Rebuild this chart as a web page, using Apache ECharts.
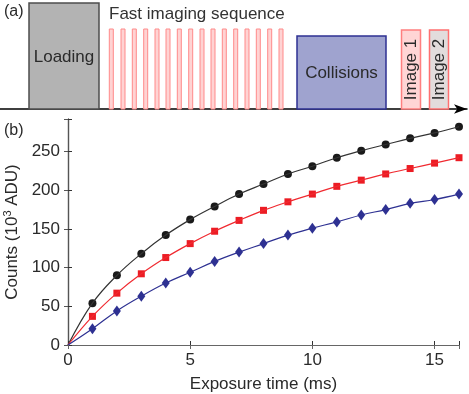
<!DOCTYPE html>
<html>
<head>
<meta charset="utf-8">
<script src="https://cdn.jsdelivr.net/npm/echarts@6/dist/echarts.min.js"></script>
<style>
html, body { margin: 0; padding: 0; background: #fff; }
#chart { width: 469px; height: 394px; }
</style>
</head>
<body>
<div id="chart"></div>
<script>
// panel (b) data, counts in 10^3 ADU
const exposure = [1, 2, 3, 4, 5, 6, 7, 8, 9, 10, 11, 12, 13, 14, 15, 16];
const countsBlack = [54, 90, 118, 142, 162, 179, 195, 208, 221, 231, 242, 251, 259, 267, 274, 282];
const countsRed = [37, 67, 92, 113, 131, 147, 161, 174, 185, 195, 205, 213, 221, 228, 235, 242];
const countsBlue = [21, 44, 63, 80, 94, 108, 120, 131, 142, 151, 159, 168, 175, 183, 188, 195];
const xTicks = [0, 5, 10, 15];
const yTicks = [0, 50, 100, 150, 200, 250];

// panel (a) sequence, positions along the time arrow (schematic units)
const blockNames = ['Loading', 'Collisions', 'Image 1', 'Image 2'];
const blockStart = [29, 297, 401.5, 429.5];
const blockEnd = [99, 386, 420.5, 448.5];
const blockHeight = [106, 73, 79, 79];
const pulseStart = [109.3, 121, 132.3, 143.7, 155, 166, 177.3, 188.7, 200, 211, 222.3, 233.7, 245, 256.3, 267.7, 279];
const pulseEnd = [113.3, 125, 136.3, 147.7, 159, 170, 181.3, 192.7, 204, 215, 226.3, 237.7, 249, 260.3, 271.7, 283];
const pulseHeight = 80;

const FONT = '"Liberation Sans", Arial, Helvetica, sans-serif';
const TXT = '#2a2a2a';

const blockStyles = [
  { fill: '#b3b3b3', stroke: '#4d4d4d', vertical: false },
  { fill: '#9fa3cf', stroke: '#2e3192', vertical: false },
  { fill: '#ffd5d5', stroke: '#ff7f7f', vertical: true },
  { fill: '#e2dcdc', stroke: '#ff7070', vertical: true }
];

let myChart = echarts.init(document.getElementById('chart'));

function pairs(ys) {
  return exposure.map((x, i) => [x, ys[i]]);
}
function fitLine(ys) {
  return [[0, 0]].concat(pairs(ys));
}
function tickFmt(list) {
  return function (v) { return list.indexOf(v) >= 0 ? String(v) : ''; };
}

function renderBlock(params, api) {
  let p0 = api.coord([api.value(0), 0]);
  let p1 = api.coord([api.value(1), api.value(2)]);
  let st = blockStyles[params.dataIndex];
  let cx = (p0[0] + p1[0]) / 2;
  let cy = (p0[1] + p1[1]) / 2;
  return {
    type: 'group',
    children: [
      {
        type: 'rect',
        shape: { x: p0[0], y: p1[1], width: p1[0] - p0[0], height: p0[1] - p1[1] },
        style: { fill: st.fill, stroke: st.stroke, lineWidth: 1.5 }
      },
      {
        type: 'text',
        x: cx, y: cy + (st.vertical ? 0 : 1),
        rotation: st.vertical ? Math.PI / 2 : 0,
        style: {
          text: blockNames[params.dataIndex],
          fill: TXT, font: '17px ' + FONT,
          align: 'center', verticalAlign: 'middle'
        }
      }
    ]
  };
}

function renderPulse(params, api) {
  let p0 = api.coord([api.value(0), 0]);
  let p1 = api.coord([api.value(1), api.value(2)]);
  return {
    type: 'rect',
    shape: { x: p0[0], y: p1[1], width: p1[0] - p0[0], height: p0[1] - p1[1] },
    style: { fill: '#ffd3d3', stroke: '#ff8a8a', lineWidth: 1 }
  };
}

let option = {
  animation: false,
  textStyle: { fontFamily: FONT },
  grid: [
    { left: 0, top: 0, width: 467, height: 109, outerBoundsMode: 'none', containLabel: false },
    { left: 68, top: 119, right: 10, bottom: 49, outerBoundsMode: 'none', containLabel: false }
  ],
  xAxis: [
    {
      gridIndex: 0, type: 'value', min: 0, max: 467,
      axisLine: { show: true, symbol: ['none', 'arrow'], symbolSize: [7, 13], lineStyle: { color: '#000', width: 1.5 } },
      axisTick: { show: false }, axisLabel: { show: false }, splitLine: { show: false }
    },
    {
      gridIndex: 1, type: 'value', min: 0, max: 16, interval: 5,
      name: 'Exposure time (ms)', nameLocation: 'middle', nameGap: 31,
      nameTextStyle: { fontSize: 17, color: TXT, fontFamily: FONT },
      axisLine: { lineStyle: { color: '#333', width: 1.2 } },
      axisTick: { inside: true, length: 4, lineStyle: { color: '#333' } },
      axisLabel: { fontSize: 17, color: TXT, margin: 7, formatter: tickFmt(xTicks) },
      splitLine: { show: false }
    },
    {
      gridIndex: 1, type: 'value', min: 0, max: 16, interval: 5, position: 'top',
      axisLine: { lineStyle: { color: '#666', width: 1.2 } },
      axisTick: { inside: true, length: 4, lineStyle: { color: '#666' } },
      axisLabel: { show: false }, splitLine: { show: false }
    }
  ],
  yAxis: [
    { gridIndex: 0, type: 'value', min: 0, max: 109, show: false },
    {
      gridIndex: 1, type: 'value', min: 0, max: 292, interval: 50,
      name: 'Counts (10{sup|3} ADU)', nameLocation: 'middle', nameGap: 46, nameRotate: 90,
      nameTextStyle: {
        fontSize: 17, color: TXT, fontFamily: FONT,
        rich: { sup: { fontSize: 11, color: TXT, fontFamily: FONT, verticalAlign: 'top', padding: [0, 0, 8, 0] } }
      },
      axisLine: { show: true, lineStyle: { color: '#333', width: 1.2 } },
      axisTick: { show: true, inside: true, length: 4, lineStyle: { color: '#333' } },
      axisLabel: { fontSize: 17, color: TXT, margin: 8, formatter: tickFmt(yTicks) },
      splitLine: { show: false }
    },
    {
      gridIndex: 1, type: 'value', min: 0, max: 292, interval: 50, position: 'right',
      axisLine: { show: true, lineStyle: { color: '#555', width: 1.2 } },
      axisTick: { show: true, inside: true, length: 4, lineStyle: { color: '#555' } },
      axisLabel: { show: false }, splitLine: { show: false }
    }
  ],
  graphic: [
    { type: 'text', left: 4, top: 4, style: { text: '(a)', font: '16px ' + FONT, fill: TXT } },
    { type: 'text', left: 4, top: 123, style: { text: '(b)', font: '16px ' + FONT, fill: TXT } },
    { type: 'text', left: 109, top: 6, style: { text: 'Fast imaging sequence', font: '17px ' + FONT, fill: '#333' } }
  ],
  series: [
    {
      type: 'custom', xAxisIndex: 0, yAxisIndex: 0,
      renderItem: renderPulse, clip: false,
      data: pulseStart.map((s, i) => [s, pulseEnd[i], pulseHeight])
    },
    {
      type: 'custom', xAxisIndex: 0, yAxisIndex: 0,
      renderItem: renderBlock, clip: false,
      data: blockStart.map((s, i) => [s, blockEnd[i], blockHeight[i]])
    },
    {
      name: 'fit black', type: 'line', xAxisIndex: 1, yAxisIndex: 1,
      data: fitLine(countsBlack), smooth: 0.4, symbol: 'none',
      lineStyle: { color: '#333', width: 1.2 }
    },
    {
      name: 'fit red', type: 'line', xAxisIndex: 1, yAxisIndex: 1,
      data: fitLine(countsRed), smooth: 0.4, symbol: 'none',
      lineStyle: { color: '#f02a30', width: 1.2 }
    },
    {
      name: 'fit blue', type: 'line', xAxisIndex: 1, yAxisIndex: 1,
      data: fitLine(countsBlue), smooth: 0.4, symbol: 'none',
      lineStyle: { color: '#2e3192', width: 1.2 }
    },
    {
      name: 'black', type: 'scatter', xAxisIndex: 1, yAxisIndex: 1, clip: false,
      data: pairs(countsBlack), symbol: 'circle', symbolSize: 8,
      itemStyle: { color: '#1a1a1a', opacity: 1 }
    },
    {
      name: 'red', type: 'scatter', xAxisIndex: 1, yAxisIndex: 1, clip: false,
      data: pairs(countsRed), symbol: 'rect', symbolSize: 7,
      itemStyle: { color: '#ec1c24', opacity: 1 }
    },
    {
      name: 'blue', type: 'scatter', xAxisIndex: 1, yAxisIndex: 1, clip: false,
      data: pairs(countsBlue), symbol: 'diamond', symbolSize: [8, 11],
      itemStyle: { color: '#2e3192', opacity: 1 }
    }
  ]
};

myChart.setOption(option);
window.addEventListener('resize', function () {
  myChart.resize();
});
</script>
</body>
</html>
